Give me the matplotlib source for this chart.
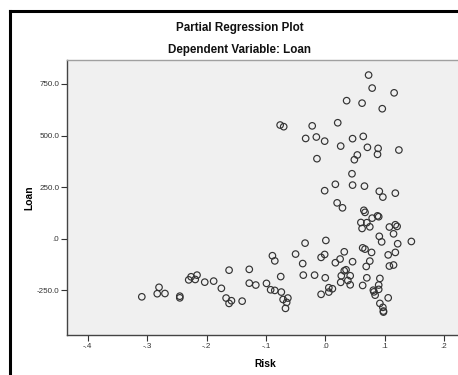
import matplotlib
matplotlib.use('Agg')
import numpy as np
import matplotlib.pyplot as plt
from matplotlib.lines import Line2D

# partial residuals
risk = [-0.309, -0.280, -0.283, -0.270, -0.245, -0.245, -0.230, -0.226, -0.219, -0.216,
        -0.203, -0.188, -0.175, -0.167, -0.162, -0.158, -0.162, -0.140, -0.128, -0.128,
        -0.117, -0.099, -0.092, -0.085, -0.089, -0.085, -0.075, -0.074, -0.071, -0.065,
        -0.063, -0.067, -0.050, -0.038, -0.037, -0.018, -0.007, -0.001, 0.000, -0.007,
        0.006, 0.006, 0.012, 0.017, 0.025, 0.032, 0.027, 0.032, 0.035, 0.042,
        0.046, 0.026, 0.038, 0.042, 0.063, 0.070, 0.069, 0.075, 0.078, 0.081,
        0.082, 0.084, 0.090, 0.090, 0.092, 0.092, 0.097, 0.098, 0.098, 0.106,
        0.106, 0.108, 0.115, 0.118, 0.063, 0.067, 0.020, 0.029, 0.065, 0.067,
        0.088, 0.090, 0.079, 0.060, 0.070, 0.062, 0.075, 0.108, 0.118, 0.121,
        0.115, 0.091, 0.095, 0.122, 0.145, -0.034, 0.001, 0.073, 0.079, 0.116,
        0.036, 0.062, 0.096, -0.076, -0.070, -0.022, 0.021, -0.033, -0.015, -0.001,
        0.026, 0.046, 0.064, 0.071, 0.089, 0.088, 0.124, 0.054, 0.049, -0.014,
        0.045, 0.017, 0.046, 0.066, -0.001, 0.091, 0.097, 0.118]
loan = [-281, -235, -266, -265, -278, -286, -199, -184, -197, -176,
        -210, -205, -240, -287, -313, -300, -152, -302, -148, -215,
        -224, -216, -247, -250, -82, -107, -183, -258, -294, -308,
        -287, -337, -74, -120, -176, -176, -90, -76, -189, -269,
        -237, -258, -242, -116, -98, -63, -179, -155, -150, -179,
        -111, -211, -202, -223, -226, -189, -134, -108, -66, -249,
        -257, -273, -224, -245, -192, -313, -332, -350, -355, -286,
        -78, -132, -127, -66, -44, -50, 174, 150, 138, 128,
        111, 107, 100, 79, 78, 50, 58, 57, 68, 60,
        24, 12, -15, -24, -13, -21, -8, 793, 730, 707,
        669, 657, 630, 551, 543, 547, 562, 486, 493, 473,
        449, 485, 496, 443, 438, 409, 430, 406, 383, 388,
        315, 264, 260, 255, 233, 230, 202, 221]

xticks = [-0.4, -0.3, -0.2, -0.1, 0.0, 0.1, 0.2]
xticklabels = ['-.4', '-.3', '-.2', '-.1', '.0', '.1', '.2']
yticks = [-250, 0, 250, 500, 750]
yticklabels = ['-250.0', '.0', '250.0', '500.0', '750.0']

plt.rcParams['font.family'] = ['Liberation Sans', 'DejaVu Sans']

W, H = 458, 375
fig = plt.figure(figsize=(W / 100, H / 100), dpi=100)

ax = fig.add_axes([67 / W, 1 - 335 / H, 396 / W, 275 / H])
ax.set_facecolor('#f0f0f0')
ax.scatter(risk, loan, s=22, facecolors='none', edgecolors='#333333', linewidths=0.85)

ax.set_xlim(-0.435, 0.232)
ax.set_ylim(-466, 866)
ax.set_xticks(xticks)
ax.set_xticklabels(xticklabels)
ax.set_yticks(yticks)
ax.set_yticklabels(yticklabels)
ax.tick_params(direction='out', length=4, width=0.8, colors='#333333', labelsize=5.8, pad=1.5)

for side in ['left', 'bottom']:
    ax.spines[side].set_color('#444444')
    ax.spines[side].set_linewidth(1.0)
for side in ['top', 'right']:
    ax.spines[side].set_color('#a0a0a0')
    ax.spines[side].set_linewidth(1.0)

ax.set_xlabel('Risk', fontsize=7.4, fontweight='bold', labelpad=7)
ax.set_ylabel('Loan', fontsize=7.4, fontweight='bold', labelpad=2)

fig.text(240 / W, 1 - 28.5 / H, 'Partial Regression Plot', ha='center', va='center',
         fontsize=8.4, fontweight='bold', color='#111111')
fig.text(240 / W, 1 - 49.5 / H, 'Dependent Variable: Loan', ha='center', va='center',
         fontsize=8.4, fontweight='bold', color='#111111')

# outer chart frame, only the top and left edges fall inside the image
fig.add_artist(Line2D([10 / W, 10 / W], [0, 1 - 11 / H], color='black', lw=2.2))
fig.add_artist(Line2D([10 / W, 1], [1 - 11 / H, 1 - 11 / H], color='black', lw=2.2))

fig.savefig('out.png', dpi=100)
